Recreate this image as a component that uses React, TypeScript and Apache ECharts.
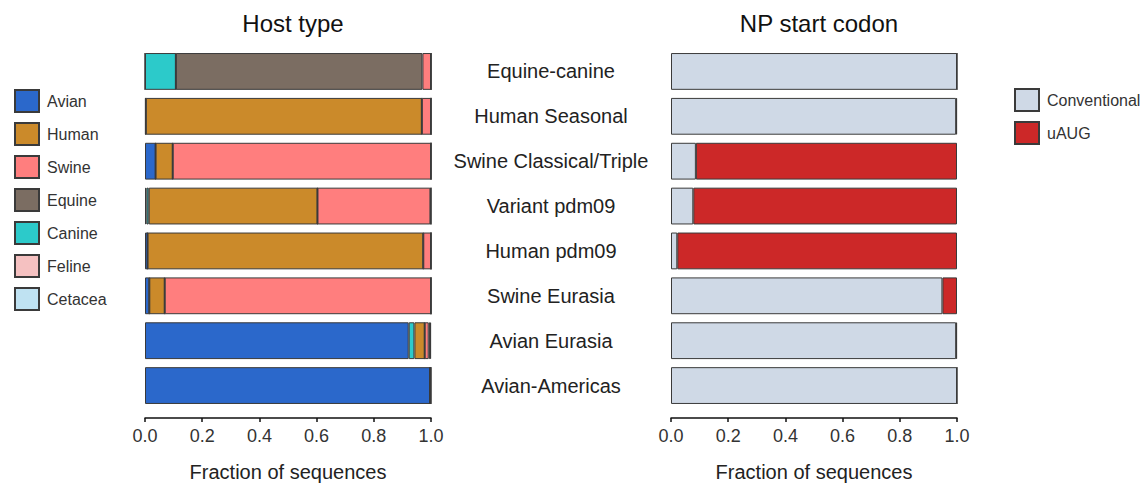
import React, { useEffect, useRef } from "react";
import * as echarts from "echarts";

const categories = [
  "Equine-canine",
  "Human Seasonal",
  "Swine Classical/Triple",
  "Variant pdm09",
  "Human pdm09",
  "Swine Eurasia",
  "Avian Eurasia",
  "Avian-Americas",
];

// Host type fractions (stack order: Avian, Canine, Human, Equine, Swine, Feline, Cetacea)
const avian = [0, 0.003, 0.037, 0.005, 0.009, 0.015, 0.922, 0.997];
const canine = [0.108, 0, 0, 0.008, 0, 0, 0.02, 0];
const human = [0, 0.965, 0.06, 0.59, 0.964, 0.054, 0.036, 0];
const equine = [0.862, 0, 0, 0, 0, 0, 0, 0];
const swine = [0.03, 0.032, 0.903, 0.395, 0.027, 0.931, 0.014, 0];
const feline = [0, 0, 0, 0.002, 0, 0, 0.005, 0.003];
const cetacea = [0, 0, 0, 0, 0, 0, 0.003, 0];

// NP start codon fractions
const conventional = [1.0, 0.997, 0.087, 0.078, 0.022, 0.949, 0.997, 1.0];
const uaug = [0, 0.003, 0.913, 0.922, 0.978, 0.051, 0.003, 0];

const hostLegendOrder = ["Avian", "Human", "Swine", "Equine", "Canine", "Feline", "Cetacea"];
const codonLegendOrder = ["Conventional", "uAUG"];
const colors: Record<string, string> = {
  Avian: "#2b68cb",
  Human: "#cb8a2a",
  Swine: "#ff7e7e",
  Equine: "#7b6d62",
  Canine: "#2ccaca",
  Feline: "#f5c1c1",
  Cetacea: "#bfe2f2",
  Conventional: "#cfd9e6",
  uAUG: "#cc2828",
};

const FONT = "Liberation Sans, Arial, sans-serif";

export default function App() {
  const ref = useRef<HTMLDivElement>(null);
  useEffect(() => {
    if (!ref.current) return;
    const chart = echarts.init(ref.current, undefined, { renderer: "svg" });
    const barBase = (name: string, data: number[], idx: number) => ({
      name,
      type: "bar",
      stack: "s" + idx,
      xAxisIndex: idx,
      yAxisIndex: idx,
      data,
      barCategoryGap: "18%",
      itemStyle: {
        color: colors[name],
        borderColor: "#3a3a3a",
        borderWidth: 1,
      },
      emphasis: { disabled: true },
    });
    const xAxisBase = (idx: number) => ({
      type: "value",
      gridIndex: idx,
      min: 0,
      max: 1,
      interval: 0.2,
      offset: 10,
      splitLine: { show: false },
      axisLine: { show: true, lineStyle: { color: "#111", width: 1.5 } },
      axisTick: { show: true, length: 4, lineStyle: { color: "#111", width: 1.5 } },
      axisLabel: {
        fontSize: 18,
        color: "#333",
        fontFamily: FONT,
        margin: 9,
        formatter: (v: number) => v.toFixed(1),
      },
      name: "Fraction of sequences",
      nameLocation: "middle",
      nameGap: 44,
      nameTextStyle: { fontSize: 20, color: "#222", fontFamily: FONT },
    });
    const legendText = { fontSize: 16, color: "#333", fontFamily: FONT, padding: [0, 0, 0, 3] };
    const option: any = {
      animation: false,
      backgroundColor: "#fff",
      title: [
        {
          text: "Host type",
          left: 288,
          top: 6,
          textAlign: "center",
          textStyle: { fontSize: 24, fontWeight: "normal", color: "#111", fontFamily: FONT },
        },
        {
          text: "NP start codon",
          left: 814,
          top: 6,
          textAlign: "center",
          textStyle: { fontSize: 24, fontWeight: "normal", color: "#111", fontFamily: FONT },
        },
      ],
      legend: [
        {
          data: hostLegendOrder,
          orient: "vertical",
          left: 9,
          top: 84,
          itemWidth: 24,
          itemHeight: 22,
          itemGap: 9,
          icon: "rect",
          selectedMode: false,
          textStyle: legendText,
        },
        {
          data: codonLegendOrder,
          orient: "vertical",
          left: 1009,
          top: 83,
          itemWidth: 24,
          itemHeight: 22,
          itemGap: 9,
          icon: "rect",
          selectedMode: false,
          textStyle: { ...legendText, fontSize: 16 },
        },
      ],
      grid: [
        { left: 145, width: 286, top: 49, height: 363 },
        { left: 671, width: 286, top: 49, height: 363 },
      ],
      xAxis: [xAxisBase(0), xAxisBase(1)],
      yAxis: [
        {
          type: "category",
          gridIndex: 0,
          data: categories,
          inverse: true,
          axisLine: { show: false },
          axisTick: { show: false },
          axisLabel: { show: false },
        },
        {
          type: "category",
          gridIndex: 1,
          data: categories,
          inverse: true,
          axisLine: { show: false },
          axisTick: { show: false },
          axisLabel: {
            show: true,
            align: "center",
            margin: 120,
            fontSize: 20,
            color: "#222",
            fontFamily: FONT,
          },
        },
      ],
      series: [
        barBase("Avian", avian, 0),
        barBase("Canine", canine, 0),
        barBase("Human", human, 0),
        barBase("Equine", equine, 0),
        barBase("Swine", swine, 0),
        barBase("Feline", feline, 0),
        barBase("Cetacea", cetacea, 0),
        barBase("Conventional", conventional, 1),
        barBase("uAUG", uaug, 1),
      ],
    };
    chart.setOption(option);
    return () => chart.dispose();
  }, []);
  return (
    <div
      ref={ref}
      style={{ position: "fixed", left: 0, top: 0, width: 1148, height: 487 }}
    />
  );
}
